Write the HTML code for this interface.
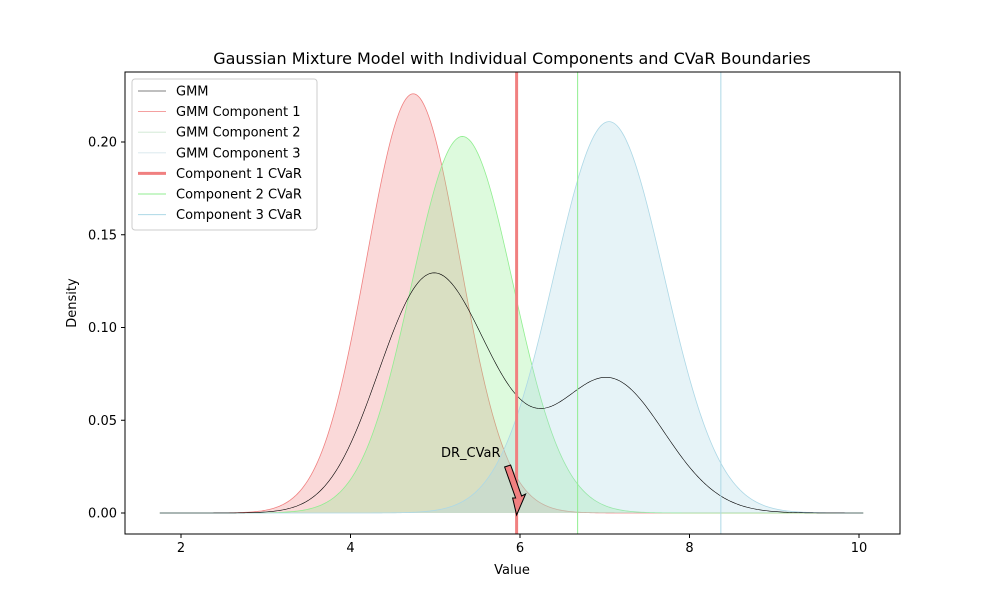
<!DOCTYPE html>
<html><head><meta charset="utf-8"><style>
body{margin:0;background:#fff;}
svg{font-family:"DejaVu Sans","Liberation Sans",sans-serif;}
</style></head><body>
<svg id="chart" width="1000" height="600" xmlns="http://www.w3.org/2000/svg">
<rect width="1000" height="600" fill="#fff"/>
<g id="plot"></g>
</svg>
<script>
const compNames=["GMM Component 1","GMM Component 2","GMM Component 3"];
const compMeans=[4.74,5.32,7.05];
const compSigmas=[0.55,0.6,0.65];
const compPeaks=[0.226,0.203,0.211];
const compColors=["#f08080","#90ee90","#add8e6"];
const cvarValues=[5.96,6.68,8.37];
const xTicks=[2,4,6,8,10];
const yTicks=[0,0.05,0.10,0.15,0.20];
const xRange=[1.75,10.05];

const NS="http://www.w3.org/2000/svg";
const L=125,R=900,T=72,B=534;
const X=v=>181+(v-2)*84.75;
const Y=v=>513-v*1855;
const g=document.getElementById('plot');
function el(t,a,p){const e=document.createElementNS(NS,t);for(const k in a)e.setAttribute(k,a[k]);(p||g).appendChild(e);return e;}
function comp(i,x){return compPeaks[i]*Math.exp(-Math.pow(x-compMeans[i],2)/(2*compSigmas[i]*compSigmas[i]));}
const xs=[];for(let i=0;i<=400;i++)xs.push(xRange[0]+(xRange[1]-xRange[0])*i/400);
function path(f){return xs.map((x,i)=>(i?'L':'M')+X(x).toFixed(2)+','+Y(f(x)).toFixed(2)).join('');}

for(let i=0;i<3;i++){
  const d=path(x=>comp(i,x));
  const f=el('path',{d:d+'L'+X(xRange[1])+','+Y(0)+'L'+X(xRange[0])+','+Y(0)+'Z',fill:compColors[i],'fill-opacity':0.3,stroke:'none'});
  
  
  const l=el('path',{d:d,fill:'none',stroke:compColors[i],'stroke-width':0.8});
  
  
}
const gm=el('path',{d:path(x=>(comp(0,x)+comp(1,x)+comp(2,x))*0.341),fill:'none',stroke:'#000','stroke-width':0.6});


const vw=[3,1,1];
for(let i=0;i<3;i++){
  const v=el('line',{x1:X(cvarValues[i]),x2:X(cvarValues[i]),y1:T,y2:B,stroke:compColors[i],'stroke-width':vw[i]});
  
  
}
const ax=X(cvarValues[0]),ay=Y(0);
const ar=el('polygon',{points:`${ax},${ay+2} ${ax-4},${ay-15} ${ax-1},${ay-15} ${ax-12},${ay-46} ${ax-6},${ay-48} ${ax+5},${ay-17} ${ax+9},${ay-19}`,fill:'#f08080',stroke:'#000','stroke-width':1});


const at=el('text',{x:441,y:457,'font-size':13});at.textContent='DR_CVaR';



const fr=el('rect',{x:L,y:T,width:R-L,height:B-T,fill:'none',stroke:'#000','stroke-width':1});


xTicks.forEach(t=>{
  el('line',{x1:X(t),x2:X(t),y1:B,y2:B+4,stroke:'#000'});
  const tx=el('text',{x:X(t),y:B+18,'font-size':13,'text-anchor':'middle'});tx.textContent=t;
  
  
});
yTicks.forEach(t=>{
  el('line',{x1:L-4,x2:L,y1:Y(t),y2:Y(t),stroke:'#000'});
  const tx=el('text',{x:L-8,y:Y(t)+4.5,'font-size':13,'text-anchor':'end'});tx.textContent=t.toFixed(2);
  
  
});
const xt=el('text',{x:512,y:574,'font-size':13,'text-anchor':'middle'});xt.textContent='Value';


const yt=el('text',{x:76,y:303,'font-size':13,'text-anchor':'middle',transform:'rotate(-90 76 303)'});yt.textContent='Density';


const tt=el('text',{x:512,y:64,'font-size':16,'text-anchor':'middle'});tt.textContent='Gaussian Mixture Model with Individual Components and CVaR Boundaries';



const lg=el('rect',{x:132,y:79,width:185,height:151,rx:3,fill:'#fff','fill-opacity':0.8,stroke:'#ccc'});


const legNames=["GMM"].concat(compNames,["Component 1 CVaR","Component 2 CVaR","Component 3 CVaR"]);
const legColors=["#000","#f08080","#cde6d0","#d6e6ec","#f08080","#90ee90","#add8e6"];
const legW=[0.6,0.8,0.8,0.8,3,1,1];
legNames.forEach((n,i)=>{
  const y=91+i*20.6;
  el('line',{x1:138,x2:166,y1:y,y2:y,stroke:legColors[i],'stroke-width':legW[i]});
  const t=el('text',{x:176,y:y+4.5,'font-size':13});t.textContent=n;
  
  
});
</script>
</body></html>
